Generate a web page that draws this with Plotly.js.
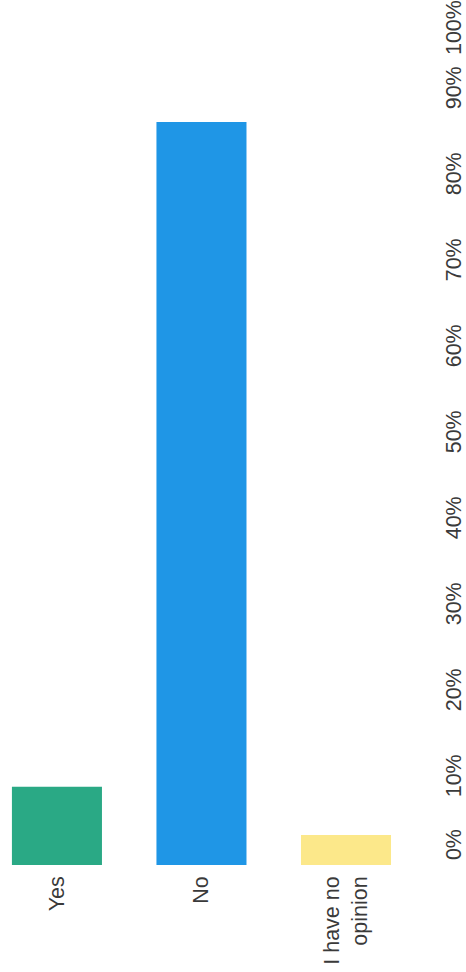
<!DOCTYPE html>
<html>
<head>
<meta charset="utf-8">
<script src="https://cdn.plot.ly/plotly-3.0.1.min.js"></script>
<style>html,body{margin:0;padding:0;background:#fff;}#chart{width:466px;height:972px;}</style>
</head>
<body>
<div id="chart"></div>
<script>
const categories = ["Yes", "No", "I have no<br>opinion"];
const percentages = [9.1, 86.4, 3.5];
const barColors = ["#2aa985", "#1f96e6", "#fce88a"];
const tickValues = [0, 10, 20, 30, 40, 50, 60, 70, 80, 90, 100];
const tickLabels = ["0%", "10%", "20%", "30%", "40%", "50%", "60%", "70%", "80%", "90%", "100%"];

// edge labels are pulled inward, as in the reference
const shownTickVals = tickValues.map(v => v === 0 ? v + 2 : (v === 100 ? v - 3 : v));

const font = {family: "Liberation Sans, Arial, sans-serif", size: 21.5, color: "#3a3a3a"};

Plotly.newPlot("chart", [{
  type: "bar",
  x: [0, 1, 2],
  y: percentages,
  marker: {color: barColors},
  hoverinfo: "skip"
}], {
  width: 466, height: 972,
  margin: {l: 0, r: 46, t: 5, b: 107},
  paper_bgcolor: "#fff", plot_bgcolor: "#fff",
  showlegend: false,
  bargap: 0.377,
  font: font,
  xaxis: {
    range: [-0.394, 2.512],
    tickvals: [0, 1, 2],
    ticktext: categories,
    tickangle: -90,
    ticklabelstandoff: 6,
    showgrid: false, zeroline: false, showline: false, ticks: "",
    tickfont: font
  },
  yaxis: {
    side: "right",
    range: [0, 100],
    tickvals: shownTickVals,
    ticktext: tickLabels,
    tickangle: -90,
    ticklabelstandoff: 18,
    showgrid: false, zeroline: false, showline: false, ticks: "",
    tickfont: font
  }
}, {staticPlot: true});
</script>
</body>
</html>
